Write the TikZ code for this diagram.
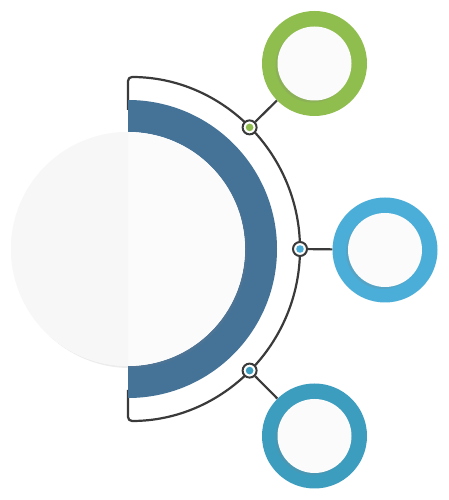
\documentclass[tikz,border=0pt]{standalone}
\usepackage{tikz}
\usetikzlibrary{shadows}
\definecolor{leafgreen}{HTML}{8FBE4E}
\definecolor{skyblue}{HTML}{4BAED8}
\definecolor{seablue}{HTML}{3C9DBF}
\definecolor{bandblue}{HTML}{457398}
\definecolor{linegray}{HTML}{3A3A3A}
\tikzstyle{hub} = [circle, minimum size=234pt, inner sep=0pt, fill=gray!3, drop shadow={shadow xshift=2pt, shadow yshift=-2pt, opacity=0.15}]
\tikzstyle{ring} = [circle, minimum size=105pt, inner sep=0pt]
\tikzstyle{disc} = [circle, minimum size=74pt, inner sep=0pt, fill=gray!3, drop shadow={shadow xshift=-2pt, shadow yshift=-2pt, opacity=0.2}]
\tikzstyle{dot} = [circle, minimum size=14pt, inner sep=0pt, draw=linegray, line width=2pt, fill=white]
\tikzstyle{link} = [draw=linegray, line width=2.2pt]

\begin{document}
\begin{tikzpicture}[x=1pt, y=1pt]
	\useasboundingbox[fill=white] (0,0) rectangle (448,500);
	
	% half outline and blue band
	\draw [link, rounded corners=4pt] (128,390) -- (128,423) arc[start angle=90, end angle=-90, radius=172] -- (128,110);
	\fill [bandblue] (128,400) arc[start angle=90, end angle=-90, radius=149] -- (128,134) arc[start angle=-90, end angle=90, radius=117] -- cycle;
	
	% big circle
	\node (main) [hub] at (128,251) {};
	\fill [gray!6] (128,368) arc[start angle=90, end angle=270, radius=117] -- cycle;
	
	% dots on the outline
	\node (gdot) [dot] at (249.6,372.6) {};
	\node (bdot) [dot] at (300,251) {};
	\node (tdot) [dot] at (249.6,129.4) {};
	
	% rings
	\node (gring) [ring, fill=leafgreen] at (314.5,436.5) {};
	\node (bring) [ring, fill=skyblue] at (385,250) {};
	\node (tring) [ring, fill=seablue] at (314.5,64) {};
	\node (gdisc) [disc] at (gring) {};
	\node (bdisc) [disc] at (bring) {};
	\node (tdisc) [disc] at (tring) {};
	
	\draw [link] (gdot) -- (gring);
	\draw [link] (bdot) -- (bring);
	\draw [link] (tdot) -- (tring);
	
	\fill [leafgreen] (gdot) circle (3.8);
	\fill [skyblue] (bdot) circle (3.8);
	\fill [seablue] (tdot) circle (3.8);
	
\end{tikzpicture}
\end{document}
